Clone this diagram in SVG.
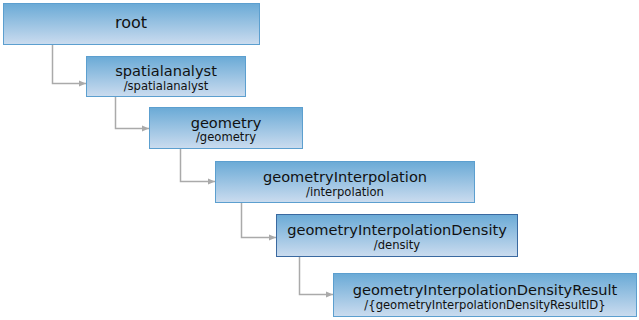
<svg xmlns="http://www.w3.org/2000/svg" width="639" height="320" viewBox="0 0 639 320">
<defs>
<linearGradient id="g" x1="0" y1="0" x2="0" y2="1">
<stop offset="0" stop-color="#6aaad6"/>
<stop offset="1" stop-color="#cbdcef"/>
</linearGradient>
<marker id="arr" markerWidth="8" markerHeight="8" refX="7" refY="4" orient="auto" markerUnits="userSpaceOnUse">
<path d="M0,1 L7,4 L0,7 Z" fill="#aaaaaa"/>
</marker>
<style>
.box{fill:url(#g);stroke:#5c9fcf;stroke-width:1}
.sel{stroke:#3a69a0}
.t{font-family:"DejaVu Sans",Verdana,sans-serif;font-size:14.6px;fill:#111;text-anchor:middle}
.r{font-size:16px}
.s{font-family:"DejaVu Sans",Verdana,sans-serif;font-size:11.6px;fill:#111;text-anchor:middle}
.c{fill:none;stroke:#aaaaaa;stroke-width:1.5;marker-end:url(#arr)}
</style>
</defs>
<rect width="639" height="320" fill="#ffffff"/>
<g id="connectors">
<path class="c" d="M52.5,44 V83.5 H86"/>
<path class="c" d="M115.5,96 V128.5 H149"/>
<path class="c" d="M180.5,148 V181.5 H215"/>
<path class="c" d="M241.5,202 V237.5 H276"/>
<path class="c" d="M299.5,256 V294.5 H333"/>
</g>
<g id="root">
<rect class="box" x="3.5" y="3.5" width="256" height="41"/>
<text class="t r" x="131" y="28">root</text>
</g>
<g id="spatialanalyst">
<rect class="box" x="86.5" y="56.5" width="159" height="40"/>
<text class="t" x="166" y="76">spatialanalyst</text>
<text class="s" x="166" y="89.5">/spatialanalyst</text>
</g>
<g id="geometry">
<rect class="box" x="149.5" y="107.5" width="153" height="41"/>
<text class="t" x="226" y="128">geometry</text>
<text class="s" x="226" y="141">/geometry</text>
</g>
<g id="geometryInterpolation">
<rect class="box" x="215.5" y="161.5" width="259" height="41"/>
<text class="t" x="345" y="182">geometryInterpolation</text>
<text class="s" x="345" y="195.5">/interpolation</text>
</g>
<g id="geometryInterpolationDensity">
<rect class="box sel" x="276.5" y="214.5" width="241" height="42"/>
<text class="t" x="397" y="235">geometryInterpolationDensity</text>
<text class="s" x="397" y="249">/density</text>
</g>
<g id="geometryInterpolationDensityResult">
<rect class="box" x="333.5" y="273.5" width="303" height="43"/>
<text class="t" x="485" y="295">geometryInterpolationDensityResult</text>
<text class="s" x="485" y="309">/{geometryInterpolationDensityResultID}</text>
</g>
</svg>
